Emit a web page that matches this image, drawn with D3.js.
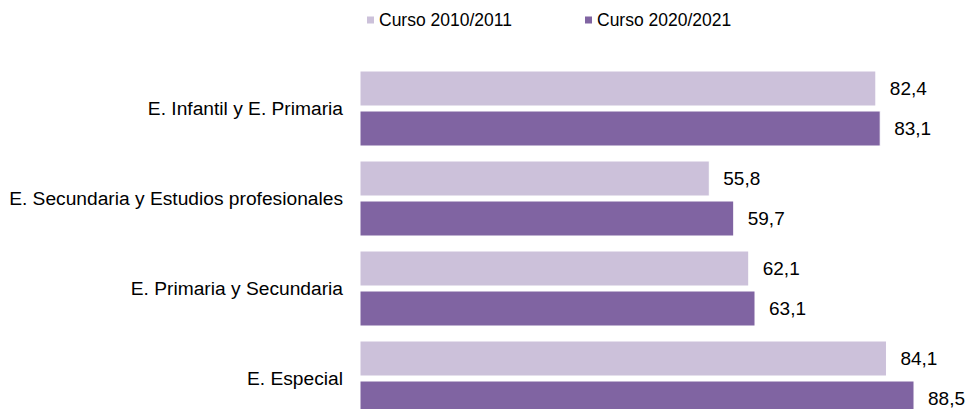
<!DOCTYPE html>
<html lang="es">
<head>
<meta charset="UTF-8" />
<title>Curso 2010/2011 vs 2020/2021</title>
<script src="https://cdn.jsdelivr.net/npm/d3@7"></script>
<style>
  html, body { margin: 0; padding: 0; background: #fff; }
  svg { display: block; font-family: "Liberation Sans", Arial, sans-serif; }
</style>
</head>
<body>
<div id="chart"></div>
<script>
// datos
const categories = [
  "E. Infantil y E. Primaria",
  "E. Secundaria y Estudios profesionales",
  "E. Primaria y Secundaria",
  "E. Especial"
];
const seriesNames = ["Curso 2010/2011", "Curso 2020/2021"];
const values2010 = [82.4, 55.8, 62.1, 84.1];
const values2020 = [83.1, 59.7, 63.1, 88.5];
const colors = ["#ccc1da", "#8064a2"];

const width = 972, height = 409;
const svg = d3.select("#chart").append("svg")
  .attr("width", width).attr("height", height);

const rows = categories.map((c, i) => ({
  cat: c,
  vals: [values2010[i], values2020[i]]
}));

// escalas
const x = d3.scaleLinear().domain([0, 100]).range([360, 986]);
const y = d3.scaleBand().domain(categories)
  .range([63.5, 423.5]).paddingInner(1 / 6).paddingOuter(1 / 12);
const y1 = d3.scaleBand().domain(seriesNames)
  .range([0, y.bandwidth()]).paddingInner(0.125);

const fmt = v => d3.format(".1f")(v).replace(".", ",");

const groups = svg.selectAll("g.grp").data(rows).enter().append("g")
  .attr("class", "grp")
  .attr("transform", d => `translate(0,${y(d.cat)})`);

groups.selectAll("rect")
  .data(d => d.vals.map((v, k) => ({ v, s: seriesNames[k], k })))
  .enter().append("rect")
  .attr("x", x(0))
  .attr("y", d => y1(d.s))
  .attr("width", d => x(d.v) - x(0))
  .attr("height", y1.bandwidth())
  .attr("fill", d => colors[d.k])
  .attr("stroke", "#fff")
  .attr("stroke-width", 1);

groups.selectAll("text.val")
  .data(d => d.vals.map((v, k) => ({ v, s: seriesNames[k] })))
  .enter().append("text")
  .attr("class", "val")
  .attr("x", d => x(d.v) + 14)
  .attr("y", d => y1(d.s) + y1.bandwidth() / 2)
  .attr("dy", "0.35em")
  .attr("font-size", 19)
  .attr("fill", "#000")
  .text(d => fmt(d.v));

// eje de categorias
const axis = svg.append("g")
  .attr("transform", `translate(${x(0)},0)`)
  .call(d3.axisLeft(y).tickSize(0).tickPadding(17));
axis.select(".domain").remove();
axis.selectAll("text")
  .attr("font-size", 19.2)
  .attr("font-family", "Liberation Sans, Arial, sans-serif")
  .attr("fill", "#000");

// leyenda
const legendX = [367, 585];
const legend = svg.selectAll("g.leg").data(seriesNames).enter().append("g")
  .attr("class", "leg")
  .attr("transform", (d, i) => `translate(${legendX[i]},20)`);
legend.append("rect")
  .attr("x", 0).attr("y", -3.5)
  .attr("width", 7).attr("height", 7)
  .attr("fill", (d, i) => colors[i]);
legend.append("text")
  .attr("x", 12).attr("dy", "0.35em")
  .attr("font-size", 17.5)
  .attr("fill", "#000")
  .text(d => d);
</script>
</body>
</html>
